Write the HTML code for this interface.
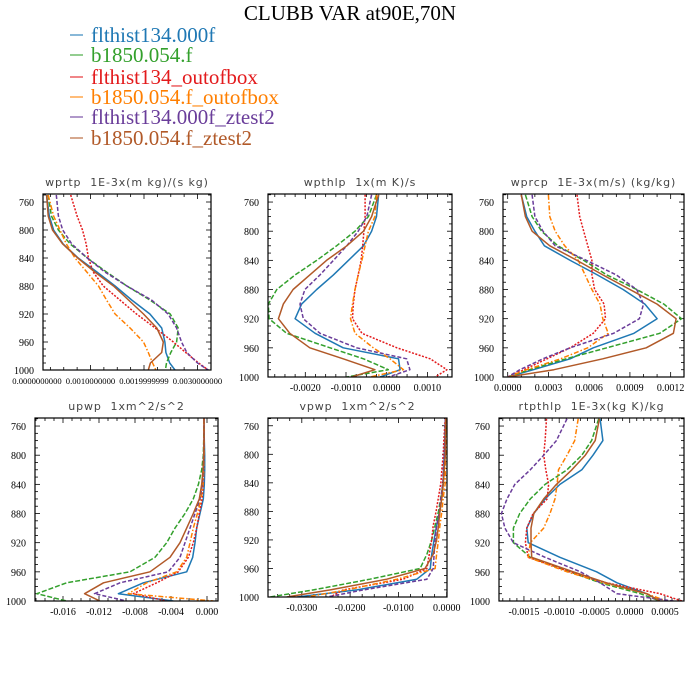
<!DOCTYPE html>
<html><head><meta charset="utf-8"><style>
html,body{margin:0;padding:0;background:#fff;}
svg{display:block;}
.tl{font-family:"Liberation Serif",serif;font-size:10px;fill:#000;}
.tls{font-family:"Liberation Serif",serif;font-size:8.6px;fill:#000;}
.pt{font-family:"DejaVu Sans","Liberation Sans",sans-serif;font-size:11px;fill:#444;letter-spacing:0.9px;white-space:pre;}
.lg{font-family:"Liberation Serif",serif;font-size:21px;}
</style></head><body>
<svg id="chart" width="700" height="700" viewBox="0 0 700 700" xmlns="http://www.w3.org/2000/svg">
<rect x="0" y="0" width="700" height="700" fill="#fff"/>
<text x="350" y="20" text-anchor="middle" class="lg" fill="#000">CLUBB VAR at90E,70N</text>
<g id="legend"></g>
<g id="panels"></g>
</svg>
<script>
const levels = [750,780,800,820,840,860,880,900,920,940,960,975,990,1000];
const seriesNames = ["flthist134.000f","b1850.054.f","flthist134_outofbox","b1850.054.f_outofbox","flthist134.000f_ztest2","b1850.054.f_ztest2"];
const yTicks = [760,800,840,880,920,960,1000];

// wprtp (units 1e-3)
const wprtp_s1 = [0.18,0.23,0.31,0.49,0.77,1.12,1.46,1.77,2.11,2.33,2.39,2.41,2.48,2.58];
const wprtp_s2 = [0.21,0.27,0.40,0.62,0.94,1.30,1.68,2.11,2.49,2.64,2.61,2.50,2.42,2.40];
const wprtp_s3 = [0.63,0.75,0.85,0.92,0.96,1.05,1.24,1.55,1.86,2.21,2.55,2.78,3.02,3.20];
const wprtp_s4 = [0.21,0.31,0.43,0.55,0.71,0.93,1.15,1.30,1.46,1.74,1.99,2.08,2.16,2.22];
const wprtp_s5 = [0.36,0.40,0.48,0.65,0.94,1.27,1.68,2.14,2.45,2.61,2.70,2.80,3.00,3.20];
const wprtp_s6 = [0.18,0.21,0.29,0.48,0.76,1.08,1.43,1.71,1.99,2.24,2.36,2.33,2.12,2.08];
const wprtp_ticks = [0,1,2,3];
const wprtp_labels = ["0.0000000000","0.0010000000","0.0019999999","0.0030000000"];

// wpthlp (units 1e-3)
const wpthlp_s1 = [-0.20,-0.25,-0.37,-0.57,-0.94,-1.31,-1.72,-2.09,-2.25,-1.76,-1.07,0.29,0.33,-0.16];
const wpthlp_s2 = [-0.25,-0.45,-0.78,-1.23,-1.72,-2.25,-2.70,-2.91,-2.89,-2.46,-1.39,-0.57,0.04,-0.98];
const wpthlp_s3 = [-0.53,-0.53,-0.56,-0.59,-0.63,-0.70,-0.78,-0.82,-0.84,-0.61,0.25,1.07,1.48,1.19];
const wpthlp_s4 = [-0.25,-0.29,-0.45,-0.53,-0.61,-0.70,-0.78,-0.84,-0.89,-0.78,-0.33,0.08,0.41,-0.41];
const wpthlp_s5 = [-0.37,-0.49,-0.70,-0.98,-1.31,-1.64,-2.01,-2.13,-2.05,-1.64,-0.74,0.49,0.57,0.04];
const wpthlp_s6 = [-0.20,-0.37,-0.57,-0.98,-1.48,-1.89,-2.30,-2.54,-2.66,-2.38,-1.89,-1.07,-0.29,-0.86];
const wpthlp_ticks = [-2,-1,0,1];
const wpthlp_labels = ["-0.0020","-0.0010","0.0000","0.0010"];

// wprcp (units 1e-3)
const wprcp_s1 = [0.10,0.14,0.20,0.27,0.46,0.66,0.85,1.01,1.10,0.93,0.63,0.46,0.19,0.00];
const wprcp_s2 = [0.13,0.18,0.25,0.37,0.56,0.73,0.95,1.15,1.28,1.12,0.73,0.43,0.16,0.00];
const wprcp_s3 = [0.51,0.53,0.56,0.59,0.62,0.62,0.64,0.71,0.72,0.63,0.46,0.29,0.12,0.00];
const wprcp_s4 = [0.30,0.31,0.35,0.42,0.52,0.57,0.62,0.68,0.70,0.74,0.59,0.39,0.14,0.00];
const wprcp_s5 = [0.18,0.20,0.26,0.35,0.58,0.80,0.95,1.00,0.97,0.78,0.46,0.26,0.09,0.00];
const wprcp_s6 = [0.10,0.13,0.18,0.31,0.51,0.70,0.90,1.10,1.24,1.22,1.02,0.70,0.34,0.00];
const wprcp_ticks = [0,0.3,0.6,0.9,1.2];
const wprcp_labels = ["0.0000","0.0003","0.0006","0.0009","0.0012"];

// upwp (units 1e-3)
const upwp_s1 = [-0.33,-0.30,-0.26,-0.26,-0.30,-0.41,-0.78,-1.15,-1.33,-1.59,-2.26,-7.07,-9.85,-3.74];
const upwp_s2 = [-0.33,-0.37,-0.41,-0.59,-0.96,-1.52,-2.44,-3.56,-4.48,-5.78,-8.56,-15.6,-18.9,-15.6];
const upwp_s3 = [-0.33,-0.33,-0.33,-0.37,-0.41,-0.56,-0.85,-1.15,-1.52,-2.07,-3.19,-5.59,-8.19,-4.48];
const upwp_s4 = [-0.33,-0.33,-0.33,-0.37,-0.44,-0.67,-1.07,-1.52,-1.89,-2.26,-3.37,-6.70,-8.74,0.70];
const upwp_s5 = [-0.33,-0.33,-0.37,-0.41,-0.52,-0.78,-1.33,-1.89,-2.44,-3.00,-4.30,-9.67,-12.5,-8.93];
const upwp_s6 = [-0.33,-0.33,-0.37,-0.44,-0.59,-0.85,-1.52,-2.26,-3.00,-4.11,-6.33,-11.5,-13.6,-11.9];
const upwp_ticks = [-16,-12,-8,-4,0];
const upwp_labels = ["-0.016","-0.012","-0.008","-0.004","0.000"];

// vpwp (units 1e-2)
const vpwp_s1 = [-0.03,-0.04,-0.05,-0.06,-0.07,-0.10,-0.14,-0.21,-0.26,-0.31,-0.34,-0.62,-1.86,-3.10];
const vpwp_s2 = [-0.01,-0.03,-0.03,-0.05,-0.07,-0.12,-0.17,-0.24,-0.31,-0.41,-0.55,-1.59,-2.76,-3.66];
const vpwp_s3 = [-0.03,-0.06,-0.07,-0.10,-0.12,-0.17,-0.22,-0.28,-0.31,-0.36,-0.41,-0.90,-2.14,-2.41];
const vpwp_s4 = [-0.01,-0.01,-0.02,-0.03,-0.03,-0.07,-0.10,-0.14,-0.17,-0.21,-0.24,-1.03,-2.07,-2.90];
const vpwp_s5 = [-0.03,-0.04,-0.05,-0.07,-0.08,-0.12,-0.15,-0.21,-0.24,-0.26,-0.28,-0.41,-1.72,-2.48];
const vpwp_s6 = [-0.02,-0.03,-0.03,-0.05,-0.07,-0.10,-0.14,-0.17,-0.21,-0.28,-0.45,-1.24,-2.41,-3.31];
const vpwp_ticks = [-3,-2,-1,0];
const vpwp_labels = ["-0.0300","-0.0200","-0.0100","0.0000"];

// rtpthlp (units 1e-3)
const rtpthlp_s1 = [-0.42,-0.38,-0.52,-0.68,-0.99,-1.20,-1.36,-1.46,-1.44,-0.99,-0.47,-0.18,0.24,0.43];
const rtpthlp_s2 = [-0.44,-0.54,-0.68,-0.89,-1.20,-1.41,-1.56,-1.65,-1.65,-1.41,-0.85,-0.42,0.15,0.43];
const rtpthlp_s3 = [-1.18,-1.20,-1.22,-1.19,-1.15,-1.17,-1.37,-1.46,-1.48,-1.44,-0.85,-0.33,0.43,0.74];
const rtpthlp_s4 = [-0.73,-0.78,-0.89,-1.01,-1.03,-1.06,-1.13,-1.22,-1.41,-1.44,-0.89,-0.37,0.24,0.52];
const rtpthlp_s5 = [-0.89,-1.04,-1.22,-1.41,-1.63,-1.74,-1.82,-1.77,-1.65,-1.20,-0.70,-0.42,-0.18,0.62];
const rtpthlp_s6 = [-0.43,-0.49,-0.63,-0.82,-1.04,-1.22,-1.36,-1.40,-1.40,-1.39,-0.80,-0.33,0.24,0.43];
const rtpthlp_ticks = [-1.5,-1,-0.5,0,0.5];
const rtpthlp_labels = ["-0.0015","-0.0010","-0.0005","0.0000","0.0005"];

const colors = ["#1f78b4","#33a02c","#e31a1c","#ff7f00","#6a3d9a","#b15928"];
const dashes = ["none","5,2","2,1.5","5,2,1.5,2","4,2","none"];
const NS = "http://www.w3.org/2000/svg";

const panels = [
 {name:"wprtp", title:"wprtp  1E-3x(m kg)/(s kg)", box:[43,194,211,370], x0:37, kx:53.5, yb:370, ky:0.7,
  series:[wprtp_s1,wprtp_s2,wprtp_s3,wprtp_s4,wprtp_s5,wprtp_s6], ticks:wprtp_ticks, labels:wprtp_labels, minor:0.25, small:true},
 {name:"wpthlp", title:"wpthlp  1x(m K)/s", box:[268,194,452,377], x0:386.7, kx:40.7, yb:377, ky:0.729,
  series:[wpthlp_s1,wpthlp_s2,wpthlp_s3,wpthlp_s4,wpthlp_s5,wpthlp_s6], ticks:wpthlp_ticks, labels:wpthlp_labels, minor:0.25},
 {name:"wprcp", title:"wprcp  1E-3x(m/s) (kg/kg)", box:[503,194,684,377], x0:507.7, kx:135.8, yb:377, ky:0.729,
  series:[wprcp_s1,wprcp_s2,wprcp_s3,wprcp_s4,wprcp_s5,wprcp_s6], ticks:wprcp_ticks, labels:wprcp_labels, minor:0.1},
 {name:"upwp", title:"upwp  1xm^2/s^2", box:[35,418,218,601], x0:207, kx:9, yb:601, ky:0.729,
  series:[upwp_s1,upwp_s2,upwp_s3,upwp_s4,upwp_s5,upwp_s6], ticks:upwp_ticks, labels:upwp_labels, minor:1},
 {name:"vpwp", title:"vpwp  1xm^2/s^2", box:[268,418,447,597], x0:446.7, kx:48.3, yb:597, ky:0.7135,
  series:[vpwp_s1,vpwp_s2,vpwp_s3,vpwp_s4,vpwp_s5,vpwp_s6], ticks:vpwp_ticks, labels:vpwp_labels, minor:0.25},
 {name:"rtpthlp", title:"rtpthlp  1E-3x(kg K)/kg", box:[499,418,684,601], x0:629.7, kx:70.5, yb:601, ky:0.729,
  series:[rtpthlp_s1,rtpthlp_s2,rtpthlp_s3,rtpthlp_s4,rtpthlp_s5,rtpthlp_s6], ticks:rtpthlp_ticks, labels:rtpthlp_labels, minor:0.1}
];

function mk(tag, attrs, parent){
  const e = document.createElementNS(NS, tag);
  for (const k in attrs) e.setAttribute(k, attrs[k]);
  parent.appendChild(e);
  return e;
}

// legend
const lg = document.getElementById("legend");
const legendY = [35,55,77,97,117,138];
seriesNames.forEach((n,i)=>{
  const g = mk("g",{},lg);
  
  
  mk("line",{x1:70,x2:83,y1:legendY[i],y2:legendY[i],stroke:colors[i],"stroke-width":1.5,opacity:0.7},g);
  const t = mk("text",{x:91,y:legendY[i]+7,class:"lg",fill:colors[i]},g);
  t.textContent = n;
});

const root = document.getElementById("panels");
panels.forEach((P,pi)=>{
  const [L,T,R,B] = P.box;
  const xs = v => P.x0 + P.kx*v;
  const ys = p => P.yb - (1000-p)*P.ky;
  const g = mk("g",{},root);
  
  
  const cp = mk("clipPath",{id:"clip"+pi},g);
  mk("rect",{x:L,y:T,width:R-L,height:B-T},cp);
  const tt = mk("text",{x:(L+R)/2,y:T-8,"text-anchor":"middle",class:"pt"},g);
  
  
  tt.textContent = P.title;
  // y ticks
  for (let p=750; p<=1000; p+=10){
    const y = ys(p);
    if (y < T-0.5) continue;
    const major = (p-760)%40===0 && p>=760;
    const len = major?5:3;
    mk("line",{x1:L,x2:L+len,y1:y,y2:y,stroke:"#000","stroke-width":0.8},g);
    mk("line",{x1:R,x2:R-len,y1:y,y2:y,stroke:"#000","stroke-width":0.8},g);
  }
  yTicks.forEach(p=>{
    const t = mk("text",{x:L-9,y:ys(p)+4,"text-anchor":"end",class:"tl"},g);
    
    
    t.textContent = p;
  });
  // x ticks
  const lo = (L-P.x0)/P.kx, hi = (R-P.x0)/P.kx;
  for (let v=Math.ceil(lo/P.minor)*P.minor; v<=hi+1e-9; v+=P.minor){
    const x = xs(v);
    const isMajor = P.ticks.some(t=>Math.abs(t-v)<1e-6);
    const len = isMajor?5:3;
    mk("line",{x1:x,x2:x,y1:B,y2:B-len,stroke:"#000","stroke-width":0.8},g);
    mk("line",{x1:x,x2:x,y1:T,y2:T+len,stroke:"#000","stroke-width":0.8},g);
  }
  P.ticks.forEach((v,i)=>{
    const t = mk("text",{x:xs(v),y:B+14,"text-anchor":"middle",class:P.small?"tls":"tl"},g);
    
    
    t.textContent = P.labels[i];
  });
  // series
  const sg = mk("g",{"clip-path":"url(#clip"+pi+")"},g);
  P.series.forEach((arr,si)=>{
    const d = arr.map((v,k)=>(k?"L":"M")+xs(v).toFixed(1)+","+ys(levels[k]).toFixed(1)).join(" ");
    const path = mk("path",{d:d,fill:"none",stroke:colors[si],"stroke-width":1.5,"stroke-dasharray":dashes[si],"stroke-linejoin":"round"},sg);
    
    
  });
  const fr = mk("rect",{x:L,y:T,width:R-L,height:B-T,fill:"none",stroke:"#000","stroke-width":1.2},g);
  
  
});
</script>
</body></html>
